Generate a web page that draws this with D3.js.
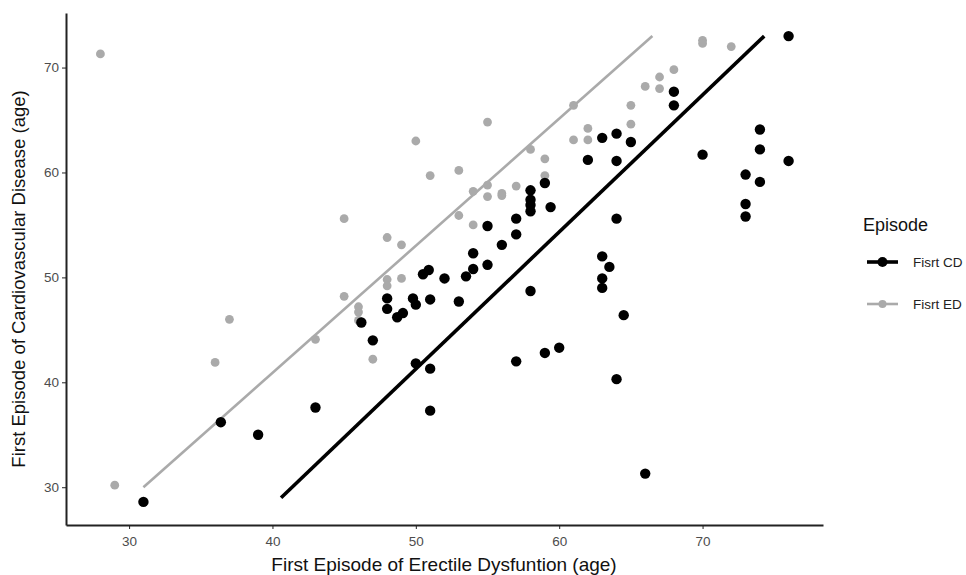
<!DOCTYPE html>
<html>
<head>
<meta charset="utf-8">
<script src="https://cdn.jsdelivr.net/npm/d3@7"></script>
<style>
  body { margin: 0; background: #fff; }
  svg { font-family: "Liberation Sans", Arial, sans-serif; }
  .axis path, .axis line { stroke: #222; }
  .axis text { fill: #4d4d4d; font-size: 13.5px; font-family: "Liberation Sans", Arial, sans-serif; }
</style>
</head>
<body>
<svg width="966" height="575"></svg>
<script>
var svg = d3.select("svg");

// First CD episode (black): ED age / CVD age
var cdX = [31, 36.4, 39, 43, 46.2, 47, 48, 48, 48.7, 49.1, 49.8, 50, 50, 50.5, 50.9, 51, 51, 51, 52, 53,
    53.5, 54, 54, 55, 55, 56, 57, 57, 57, 58, 58, 58, 58, 58, 59, 59.4, 59, 60, 62, 63,
    63, 63.5, 63, 63, 64, 64, 64, 64, 64.5, 65, 66, 68, 68, 70, 73, 73, 73, 74, 74, 74,
    76, 76];
var cdY = [28.6, 36.2, 35, 37.6, 45.7, 44, 48, 47, 46.2, 46.6, 48, 47.4, 41.8, 50.3, 50.7, 47.9, 41.3, 37.3, 49.9, 47.7,
    50.1, 50.8, 52.3, 51.2, 54.9, 53.1, 54.1, 55.6, 42, 58.3, 57.4, 56.9, 56.3, 48.7, 59, 56.7, 42.8, 43.3, 61.2, 63.3,
    52, 51, 49.9, 49, 63.7, 61.1, 55.6, 40.3, 46.4, 62.9, 31.3, 67.7, 66.4, 61.7, 59.8, 57, 55.8, 64.1, 62.2, 59.1,
    73, 61.1];

// First ED episode (grey)
var edX = [28, 29, 36, 37, 43, 45, 45, 46, 46, 46, 47, 48, 48, 48, 49, 49, 50, 51, 53, 53,
    54, 54, 55, 55, 55, 56, 56, 57, 58, 59, 59, 61, 61, 62, 62, 65, 65, 66, 67, 67,
    68, 70, 70, 72];
var edY = [71.3, 30.2, 41.9, 46, 44.1, 55.6, 48.2, 47.2, 46.7, 45.9, 42.2, 53.8, 49.8, 49.2, 53.1, 49.9, 63, 59.7, 60.2, 55.9,
    58.2, 55, 64.8, 58.8, 57.7, 58, 57.8, 58.7, 62.2, 61.3, 59.7, 66.4, 63.1, 64.2, 63.1, 66.4, 64.6, 68.2, 69.1, 68,
    69.8, 72.6, 72.3, 72];

// fitted lines (end points)
var cdLineX = [40.6, 74.3], cdLineY = [29, 73];
var edLineX = [31, 66.5], edLineY = [30, 73];

var xTicks = [30, 40, 50, 60, 70];
var yTicks = [30, 40, 50, 60, 70];
var episodes = ["Fisrt CD", "Fisrt ED"];

var cdColor = "#000", edColor = "#aaa";

// Scales
var x = d3.scaleLinear().domain([25.6, 78.4]).range([66, 823]);
var y = d3.scaleLinear().domain([26.4, 75.2]).range([525, 13]);

var toPts = function(xs, ys) { return xs.map(function(v, i) { return [v, ys[i]]; }); };
var line = d3.line().x(function(d) { return x(d[0]); }).y(function(d) { return y(d[1]); });

// Grey series
svg.append("path")
    .attr("d", line(toPts(edLineX, edLineY)))
    .style("stroke", edColor).style("stroke-width", 2.6).style("fill", "none");
svg.selectAll(".ed").data(toPts(edX, edY)).enter().append("circle")
    .attr("class", "ed")
    .attr("cx", function(d) { return x(d[0]); })
    .attr("cy", function(d) { return y(d[1]); })
    .attr("r", 4.4)
    .style("fill", edColor);

// Black series
svg.append("path")
    .attr("d", line(toPts(cdLineX, cdLineY)))
    .style("stroke", cdColor).style("stroke-width", 3.6).style("fill", "none");
svg.selectAll(".cd").data(toPts(cdX, cdY)).enter().append("circle")
    .attr("class", "cd")
    .attr("cx", function(d) { return x(d[0]); })
    .attr("cy", function(d) { return y(d[1]); })
    .attr("r", 5.2)
    .style("fill", cdColor);

// Axes
var xAxis = svg.append("g").attr("class", "axis")
    .attr("transform", "translate(0,525)")
    .call(d3.axisBottom(x).tickValues(xTicks).tickSize(4).tickSizeOuter(0));
var yAxis = svg.append("g").attr("class", "axis")
    .attr("transform", "translate(66,0)")
    .call(d3.axisLeft(y).tickValues(yTicks).tickSize(4).tickSizeOuter(0));
svg.selectAll(".axis .domain").style("stroke-width", 2);
xAxis.selectAll("text").attr("dy", "1.05em");

// Axis titles
svg.append("text")
    .attr("x", 444).attr("y", 571)
    .attr("text-anchor", "middle")
    .style("font-size", "19px").style("fill", "#111")
    .text("First Episode of Erectile Dysfuntion (age)");
svg.append("text")
    .attr("transform", "translate(25,279) rotate(-90)")
    .attr("text-anchor", "middle")
    .style("font-size", "18.5px").style("fill", "#111")
    .text("First Episode of Cardiovascular Disease (age)");

// Legend
var legend = svg.append("g").attr("transform", "translate(863,0)");
legend.append("text")
    .attr("x", 0).attr("y", 231)
    .style("font-size", "18px").style("fill", "#111")
    .text("Episode");
var keys = legend.selectAll(".key").data(episodes).enter().append("g")
    .attr("class", "key")
    .attr("transform", function(d, i) { return "translate(0," + (262 + i * 42) + ")"; });
keys.append("line")
    .attr("x1", 4).attr("x2", 35)
    .style("stroke", function(d, i) { return i ? edColor : cdColor; })
    .style("stroke-width", function(d, i) { return i ? 2.6 : 3.6; });
keys.append("circle")
    .attr("cx", 19.5).attr("r", function(d, i) { return i ? 4 : 5; })
    .style("fill", function(d, i) { return i ? edColor : cdColor; });
keys.append("text")
    .attr("x", 50).attr("dy", "0.35em")
    .style("font-size", "13.5px").style("fill", "#222")
    .text(function(d) { return d; });
</script>
</body>
</html>
